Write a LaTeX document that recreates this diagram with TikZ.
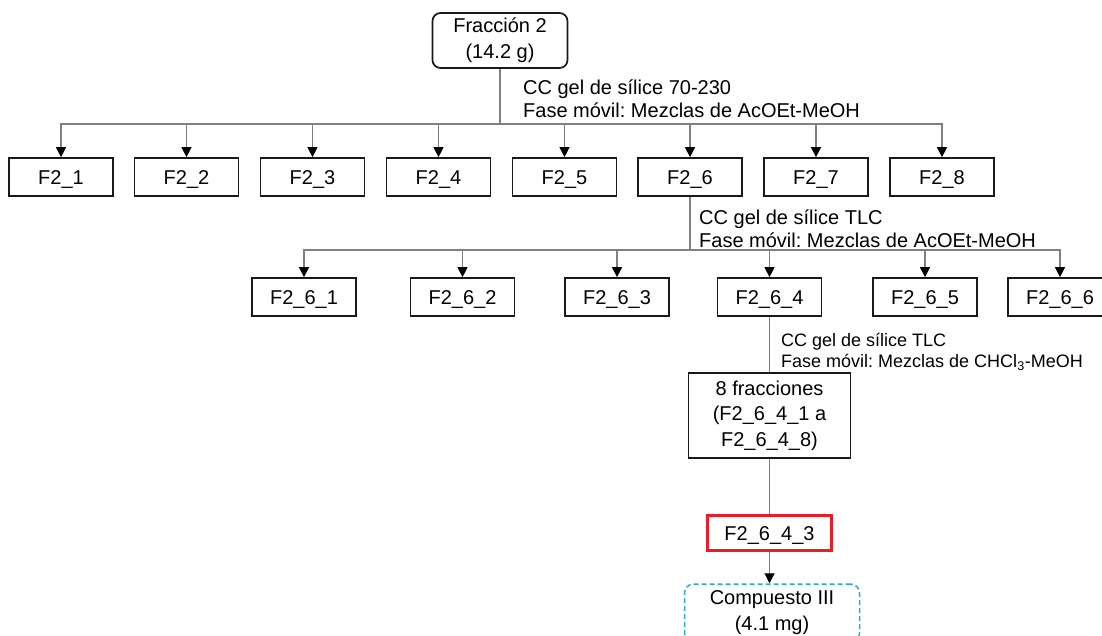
\documentclass[tikz,border=0pt]{standalone}
\usepackage{fontspec}
\setmainfont{Liberation Sans}
\usetikzlibrary{arrows.meta}
\definecolor{linegray}{RGB}{128,128,128}
\definecolor{boxline}{RGB}{25,25,25}
\definecolor{hlred}{RGB}{237,28,36}
\definecolor{cyanb}{RGB}{41,171,226}
\frenchspacing
\begin{document}
\begin{tikzpicture}[x=1pt,y=-1pt,
  fbox/.style={draw=boxline, line width=1.7pt, minimum width=104pt, minimum height=38pt,
    inner sep=0pt, font=\fontsize{20}{25}\selectfont, text height=14.4pt, text depth=0pt},
  mbox/.style={draw=boxline, line width=1.7pt, inner sep=0pt, align=center},
  conn/.style={draw=linegray, line width=1.1pt},
  arr/.style={conn, -{Triangle[width=10pt,length=10pt,color=black]}},
  lbl/.style={anchor=base west, inner sep=0pt, font=\fontsize{20}{23}\selectfont},
  lbls/.style={anchor=base west, inner sep=0pt, font=\fontsize{18}{21}\selectfont},
]
\useasboundingbox (0,0) rectangle (1102,635);

% top
\node[mbox, rounded corners=8pt, minimum width=135pt, minimum height=55pt,
  font=\fontsize{20}{26}\selectfont] (top) at (500,40.5) {Fracción 2\\(14.2 g)};

% level 1
\node[fbox] (f1) at (61,177) {F2\_1};
\node[fbox] (f2) at (186.5,177) {F2\_2};
\node[fbox] (f3) at (312.5,177) {F2\_3};
\node[fbox] (f4) at (438.5,177) {F2\_4};
\node[fbox] (f5) at (564.5,177) {F2\_5};
\node[fbox] (f6) at (690,177) {F2\_6};
\node[fbox] (f7) at (816,177) {F2\_7};
\node[fbox] (f8) at (942,177) {F2\_8};

\coordinate (j1) at (500,124);
\draw[conn] (top.south) -- (j1);
\foreach \n in {f1,f2,f3,f4,f5,f6,f7,f8} \draw[arr] (j1) -| (\n.north);

\node[lbl] (l1a) at (523,94.2) {CC gel de sílice 70-230};
\node[lbl] (l1b) at (523,117.2) {Fase móvil: Mezclas de AcOEt-MeOH};

% level 2
\node[fbox] (g1) at (304,297) {F2\_6\_1};
\node[fbox] (g2) at (462.5,297) {F2\_6\_2};
\node[fbox] (g3) at (617,297) {F2\_6\_3};
\node[fbox] (g4) at (769.5,297) {F2\_6\_4};
\node[fbox] (g5) at (925,297) {F2\_6\_5};
\node[fbox] (g6) at (1060,297) {F2\_6\_6};

\coordinate (j2) at (690,250);
\draw[conn] (f6.south) -- (j2);
\foreach \n in {g1,g2,g3,g4,g5,g6} \draw[arr] (j2) -| (\n.north);

\node[lbl] (l2a) at (699,224.2) {CC gel de sílice TLC};
\node[lbl] (l2b) at (699,247.2) {Fase móvil: Mezclas de AcOEt-MeOH};

% level 3
\node[mbox, minimum width=162pt, minimum height=85pt,
  font=\fontsize{20}{25.5}\selectfont] (frac) at (769.5,415.5)
  {8 fracciones\\(F2\_6\_4\_1 a\\F2\_6\_4\_8)};
\draw[conn] (g4.south) -- (frac.north);

\node[lbls] (l3a) at (781,346.5) {CC gel de sílice TLC};
\node[lbls] (l3b) at (781,367.5) {Fase móvil: Mezclas de CHCl\textsubscript{3}-MeOH};

\node[fbox, draw=hlred, line width=3pt, minimum width=124pt, minimum height=35pt] (sel) at (769.5,533) {F2\_6\_4\_3};
\draw[conn] (frac.south) -- (sel.north);

\node[draw=cyanb, line width=1.5pt, dash pattern=on 5pt off 3pt, rounded corners=9pt,
  minimum width=175pt, minimum height=58pt, inner sep=0pt, align=center,
  font=\fontsize{20}{26}\selectfont] (comp) at (772,613) {Compuesto III\\(4.1 mg)};
\draw[arr] (sel.south) -- (sel.south |- comp.north);
\end{tikzpicture}
\end{document}
